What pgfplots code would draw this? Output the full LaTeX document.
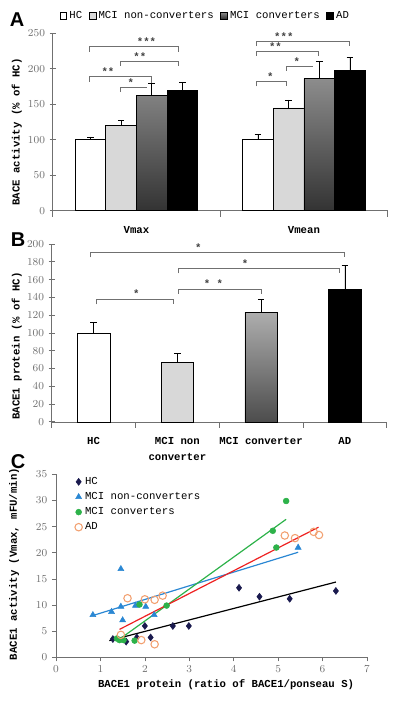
\documentclass[border=0pt]{standalone}
\usepackage{pgfplots}
\pgfplotsset{compat=1.18}
\usepackage{fontspec}
\setmainfont{Liberation Serif}
\setsansfont{Liberation Sans}
\setmonofont{Liberation Mono}
\newfontfamily\lmono{Liberation Mono}
\definecolor{navy}{HTML}{1A1A4E}
\definecolor{mciblue}{HTML}{2A87D3}
\definecolor{mcigreen}{HTML}{2DB24A}
\definecolor{adorange}{HTML}{F2A070}
\definecolor{trendred}{HTML}{EE2222}
\definecolor{tickgray}{HTML}{707070}
\definecolor{lgray}{HTML}{D8D8D8}
\pgfplotsset{
  sqlegend/.style={legend image code/.code={\draw[##1,draw=black,line width=0.3pt] (0pt,-2.5pt) rectangle (5pt,2.5pt);}},
}
\tikzset{labfont/.style={font=\lmono\bfseries\fontsize{8}{10}\selectfont}}
\newcommand{\brk}{\draw[tickgray, line width=0.6pt]}
\begin{document}
\begin{tikzpicture}
\useasboundingbox (0pt,0pt) rectangle (300pt,-525.75pt);
\node[font=\sffamily\bfseries\fontsize{15}{15}\selectfont] at (12.75pt,-15pt) {A};
\node[font=\sffamily\bfseries\fontsize{15}{15}\selectfont] at (13.5pt,-180pt) {B};
\node[font=\sffamily\bfseries\fontsize{15}{15}\selectfont] at (13.5pt,-346.5pt) {C};

% ---------------- Panel A
\begin{axis}[
  at={(39.5pt,-158pt)}, anchor=south west, scale only axis,
  width=251.25pt, height=133.05pt,
  axis lines=left, axis line style={-,draw=tickgray},
  xmin=-0.5, xmax=1.5, ymin=0, ymax=250,
  xtick={-0.5,0.5,1.5}, xticklabels={},
  ytick={0,50,...,250},
  tick align=center, major tick length=4.5pt, tick style={tickgray, line width=0.5pt},
  yticklabel style={font=\fontsize{8.5}{10}\selectfont, text=tickgray},
  ybar=0pt, bar width=0.183,
  clip=false,
  ylabel={BACE activity (\% of HC)},
  ylabel style={at={(axis description cs:-0.107,0.444)}, anchor=center, labfont},
  legend style={at={(axis description cs:0.02,1.10)}, anchor=west, legend columns=4,
    draw=none, fill=none, font=\lmono\fontsize{8}{10}\selectfont, inner sep=0pt,
    /tikz/every even column/.append style={column sep=3pt}},
  error bars/y dir=plus, error bars/y explicit,
  error bars/error bar style={black, line width=0.5pt},
  error bars/error mark options={black, mark size=2.5pt, rotate=90},
]
\addplot[draw=black, fill=white, sqlegend] coordinates {(0,100) +- (0,4) (1,100) +- (0,7)};
\addplot[draw=black, fill=lgray, sqlegend] coordinates {(0,120) +- (0,7) (1,145) +- (0,11)};
\addplot[draw=black, top color=black!45, bottom color=black!80, sqlegend] coordinates {(0,163) +- (0,17) (1,186) +- (0,25)};
\addplot[draw=black, fill=black, sqlegend] coordinates {(0,169) +- (0,12) (1,198) +- (0,18)};
\legend{HC, MCI non-converters, MCI converters, AD}
% brackets Vmax
\brk (axis cs:-0.281,224) -- (axis cs:-0.281,231) -- (axis cs:0.25,231) -- (axis cs:0.25,224);
\brk (axis cs:-0.098,204) -- (axis cs:-0.098,210) -- (axis cs:0.25,210) -- (axis cs:0.25,204);
\brk (axis cs:-0.281,182) -- (axis cs:-0.281,189) -- (axis cs:0.091,189) -- (axis cs:0.091,180);
\brk (axis cs:-0.098,167) -- (axis cs:-0.098,174) -- (axis cs:0.061,174);
% brackets Vmean
\brk (axis cs:0.714,232) -- (axis cs:0.714,239) -- (axis cs:1.271,239) -- (axis cs:1.271,232);
\brk (axis cs:0.714,218) -- (axis cs:0.714,224) -- (axis cs:1.086,224) -- (axis cs:1.086,218);
\brk (axis cs:0.897,197) -- (axis cs:0.897,203) -- (axis cs:1.056,203);
\brk (axis cs:0.714,175) -- (axis cs:0.714,182) -- (axis cs:0.897,182) -- (axis cs:0.897,175);
\begin{scope}[every node/.style={anchor=south, inner sep=0pt, text=black!75, font=\lmono\bfseries\fontsize{8}{10}\selectfont}]
\node at (axis cs:0.06,232) {***};
\node at (axis cs:0.02,211) {**};
\node at (axis cs:-0.17,190) {**};
\node at (axis cs:-0.034,175) {*};
\node at (axis cs:0.88,240) {***};
\node at (axis cs:0.83,225) {**};
\node at (axis cs:0.957,204) {*};
\node at (axis cs:0.80,183) {*};
\end{scope}
\node[labfont, anchor=north] at (axis cs:0,0) [yshift=-8pt] {Vmax};
\node[labfont, anchor=north] at (axis cs:1,0) [yshift=-8pt] {Vmean};
\end{axis}

% ---------------- Panel B
\begin{axis}[
  at={(38.8pt,-316.35pt)}, anchor=south west, scale only axis,
  width=251.25pt, height=133.35pt,
  axis lines=left, axis line style={-,draw=tickgray},
  xmin=-0.5, xmax=3.5, ymin=0, ymax=200,
  xtick={-0.5,0.5,1.5,2.5,3.5}, xticklabels={},
  ytick={0,20,...,200},
  tick align=center, major tick length=4.5pt, tick style={tickgray, line width=0.5pt},
  yticklabel style={font=\fontsize{8.5}{10}\selectfont, text=tickgray},
  ybar, bar width=0.39,
  clip=false,
  ylabel={BACE1 protein (\% of HC)},
  ylabel style={at={(axis description cs:-0.1045,0.426)}, anchor=center, labfont},
  error bars/y dir=plus, error bars/y explicit,
  error bars/error bar style={black, line width=0.5pt},
  error bars/error mark options={black, mark size=2.5pt, rotate=90},
]
\addplot[bar shift=0pt, draw=black, fill=white] coordinates {(0,100) +- (0,12)};
\addplot[bar shift=0pt, draw=black, fill=lgray] coordinates {(1,67) +- (0,10)};
\addplot[bar shift=0pt, draw=black, top color=black!32, bottom color=black!70] coordinates {(2,123) +- (0,15)};
\addplot[bar shift=0pt, draw=black, fill=black] coordinates {(3,149) +- (0,27)};
\brk (axis cs:-0.04,185) -- (axis cs:-0.04,190.7) -- (axis cs:2.99,190.7) -- (axis cs:2.99,185);
\brk (axis cs:1.01,167) -- (axis cs:1.01,172.6) -- (axis cs:2.93,172.6) -- (axis cs:2.93,167);
\brk (axis cs:1.01,144) -- (axis cs:1.01,149.4) -- (axis cs:2.0,149.4) -- (axis cs:2.0,144);
\brk (axis cs:0.03,132) -- (axis cs:0.03,137.8) -- (axis cs:0.95,137.8) -- (axis cs:0.95,132);
\begin{scope}[every node/.style={anchor=south, inner sep=0pt, text=black!75, font=\lmono\bfseries\fontsize{8}{10}\selectfont}]
\node at (axis cs:1.25,191.5) {*};
\node at (axis cs:1.81,173.5) {*};
\node at (axis cs:1.43,150.5) {* *};
\node at (axis cs:0.51,139) {*};
\end{scope}
\begin{scope}[every node/.style={anchor=north, align=center, font=\lmono\bfseries\fontsize{8}{12}\selectfont}]
\node at (axis cs:0,0) [yshift=-8pt] {HC};
\node at (axis cs:1,0) [yshift=-8pt] {MCI non\\converter};
\node at (axis cs:2,0) [yshift=-8pt] {MCI converter};
\node at (axis cs:3,0) [yshift=-8pt] {AD};
\end{scope}
\end{axis}

% ---------------- Panel C
\begin{axis}[
  at={(42pt,-493pt)}, anchor=south west, scale only axis,
  width=233.25pt, height=137.25pt,
  axis lines=left, axis line style={-,draw=tickgray},
  xmin=0, xmax=7, ymin=0, ymax=35,
  xtick={0,...,7}, ytick={0,5,...,35},
  tick align=outside, major tick length=3pt, tick style={tickgray, line width=0.5pt},
  ticklabel style={font=\sffamily\fontsize{8}{10}\selectfont, text=tickgray},
  clip=false,
  ylabel={BACE1 activity (Vmax, mFU/min)},
  ylabel style={at={(axis description cs:-0.135,0.51)}, anchor=center, labfont},
  xlabel={BACE1 protein (ratio of BACE1/ponseau S)},
  xlabel style={at={(axis description cs:0.547,-0.151)}, anchor=center, labfont},
  legend style={at={(axis description cs:0.06,1.0)}, anchor=north west, draw=none, fill=none,
    font=\lmono\fontsize{8}{10}\selectfont, row sep=0.5pt, inner sep=0pt},
  legend cell align=left,
]
\addplot[only marks, mark=diamond*, mark size=2.6pt, color=navy] coordinates {
(1.28,3.5) (1.58,3.0) (1.82,3.8) (2.0,6.0) (2.13,3.8) (2.63,6.0) (2.99,6.0)
(4.12,13.3) (4.58,11.6) (5.26,11.2) (6.30,12.7)};
\addplot[only marks, mark=triangle*, mark size=2.6pt, color=mciblue] coordinates {
(0.83,8.1) (1.25,8.7) (1.46,9.7) (1.46,16.9) (1.50,7.1) (1.79,9.9) (2.02,9.7) (2.21,8.1) (5.45,21.0)};
\addplot[only marks, mark=*, mark size=2.2pt, color=mcigreen] coordinates {
(1.37,3.6) (1.43,3.3) (1.52,3.3) (1.77,3.2) (1.88,10.1) (2.49,9.9) (4.88,24.2) (4.96,21.0) (5.18,29.9)};
\addplot[only marks, mark=o, mark size=2.8pt, color=adorange, mark options={line width=0.8pt}] coordinates {
(1.46,4.3) (1.61,11.3) (1.92,3.3) (2.0,11.1) (2.22,11.0) (2.22,2.5) (2.40,11.8)
(5.15,23.3) (5.38,22.8) (5.80,24.0) (5.92,23.4)};
\legend{HC, MCI non-converters, MCI converters, AD}
\addplot[forget plot, black, line width=0.9pt] coordinates {(1.2,3.2) (6.3,14.4)};
\addplot[forget plot, mciblue, line width=0.9pt] coordinates {(0.83,8.0) (5.45,20.1)};
\addplot[forget plot, mcigreen, line width=0.9pt] coordinates {(1.37,3.1) (5.18,26.4)};
\addplot[forget plot, trendred, line width=0.9pt] coordinates {(1.43,5.35) (5.91,24.9)};
\end{axis}
\end{tikzpicture}
\end{document}
